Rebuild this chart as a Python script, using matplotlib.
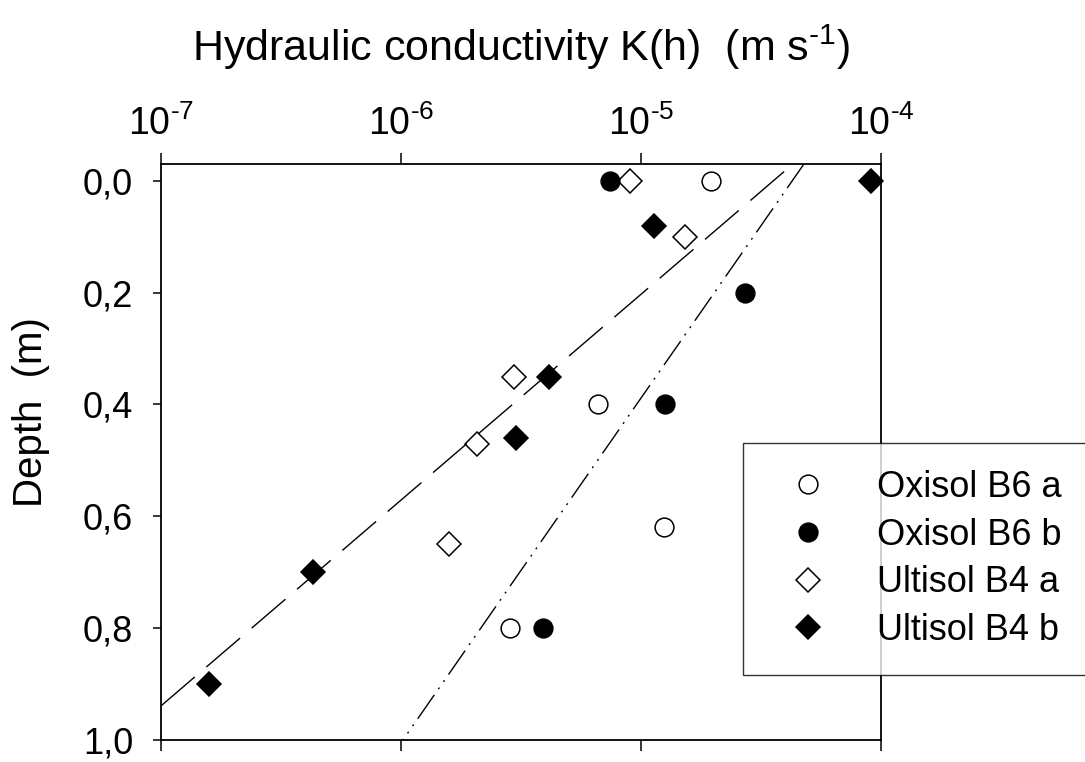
import matplotlib

matplotlib.use('agg')
import matplotlib.pyplot as plt
from matplotlib.ticker import FixedLocator, FuncFormatter
import numpy as np

plt.rcParams['font.family'] = ['Liberation Sans', 'DejaVu Sans']
plt.rcParams['mathtext.fontset'] = 'custom'
plt.rcParams['mathtext.rm'] = 'Liberation Sans'
plt.rcParams['mathtext.it'] = 'Liberation Sans:italic'
plt.rcParams['mathtext.default'] = 'regular'

# hydraulic conductivity (m/s) vs depth (m)
oxisol_a_k = [1.95e-5, 6.6e-6, 1.25e-5, 2.84e-6]
oxisol_a_depth = [0.0, 0.4, 0.62, 0.8]
oxisol_b_k = [7.4e-6, 2.7e-5, 1.26e-5, 3.9e-6]
oxisol_b_depth = [0.0, 0.2, 0.4, 0.8]
ultisol_a_k = [9.0e-6, 1.52e-5, 2.96e-6, 2.08e-6, 1.58e-6]
ultisol_a_depth = [0.0, 0.1, 0.35, 0.47, 0.65]
ultisol_b_k = [9.1e-5, 1.13e-5, 4.12e-6, 3.0e-6, 4.3e-7, 1.58e-7]
ultisol_b_depth = [0.0, 0.08, 0.35, 0.46, 0.7, 0.9]

# fitted lines: depth = a + b * log10(K)
ultisol_fit = (-1.637, -0.368)
oxisol_fit = (-2.6935, -0.6164)

x_ticks = [1e-7, 1e-6, 1e-5, 1e-4]
x_exps = [7, 6, 5, 4]
y_ticks = [0.0, 0.2, 0.4, 0.6, 0.8, 1.0]

fig = plt.figure(figsize=(10.85, 7.62), dpi=100)
ax = fig.add_axes([161 / 1085, 22 / 762, 720 / 1085, 576 / 762])

ax.set_xscale('log')
ax.set_xlim(1e-7, 1e-4)
ax.set_ylim(1.0, -0.03)

k_line = np.logspace(-7, -4, 50)
ax.plot(k_line, ultisol_fit[0] + ultisol_fit[1] * np.log10(k_line),
        color='black', lw=1.0, dashes=(32, 11))
ax.plot(k_line, oxisol_fit[0] + oxisol_fit[1] * np.log10(k_line),
        color='black', lw=1.0, dashes=(21, 5, 1.4, 5, 1.4, 5))

ms_c = 13.5
ms_d = 12
ax.plot(oxisol_a_k, oxisol_a_depth, 'o', ls='none', ms=ms_c, mfc='white', mec='black', mew=1.1,
        label='Oxisol B6 a', clip_on=False)
ax.plot(oxisol_b_k, oxisol_b_depth, 'o', ls='none', ms=ms_c, mfc='black', mec='black', mew=1.1,
        label='Oxisol B6 b', clip_on=False)
ax.plot(ultisol_a_k, ultisol_a_depth, 'D', ls='none', ms=ms_d, mfc='none', mec='black', mew=1.1,
        label='Ultisol B4 a', clip_on=False)
ax.plot(ultisol_b_k, ultisol_b_depth, 'D', ls='none', ms=ms_d, mfc='black', mec='black', mew=1.1,
        label='Ultisol B4 b', clip_on=False)

for s in ax.spines.values():
    s.set_linewidth(1.3)

ax.xaxis.set_major_locator(FixedLocator(x_ticks))
ax.xaxis.set_minor_locator(FixedLocator([]))
ax.tick_params(axis='x', which='major', top=True, bottom=True, labeltop=True, labelbottom=False,
               direction='out', length=8, width=1.1, labelsize=27, pad=7)
ax.set_xticklabels(['$10^{\u2010%d}$' % e for e in x_exps])

ax.yaxis.set_major_locator(FixedLocator(y_ticks))
ax.yaxis.set_major_formatter(FuncFormatter(lambda v, p: f'{v:.1f}'.replace('.', ',')))
ax.tick_params(axis='y', left=True, right=False, direction='out', length=6, width=1.1,
               labelsize=26, pad=14)

ax.xaxis.set_label_position('top')
ax.set_xlabel('Hydraulic conductivity K(h)  (m s$^{\u20101}$)', fontsize=31, labelpad=32)
ax.set_ylabel('Depth  (m)', fontsize=29)
ax.yaxis.set_label_coords((50 - 161) / 720, (740 - 412) / 576)

leg = ax.legend(loc='upper left', bbox_to_anchor=(743 / 1085, 1 - 443 / 762),
                bbox_transform=fig.transFigure, fontsize=26, frameon=True, fancybox=False,
                borderpad=0.75, handlelength=2.1, handletextpad=0.85, labelspacing=0.35,
                borderaxespad=0)
leg.get_frame().set_edgecolor('black')
leg.get_frame().set_linewidth(1.0)

fig.savefig('out.png', dpi=100)
